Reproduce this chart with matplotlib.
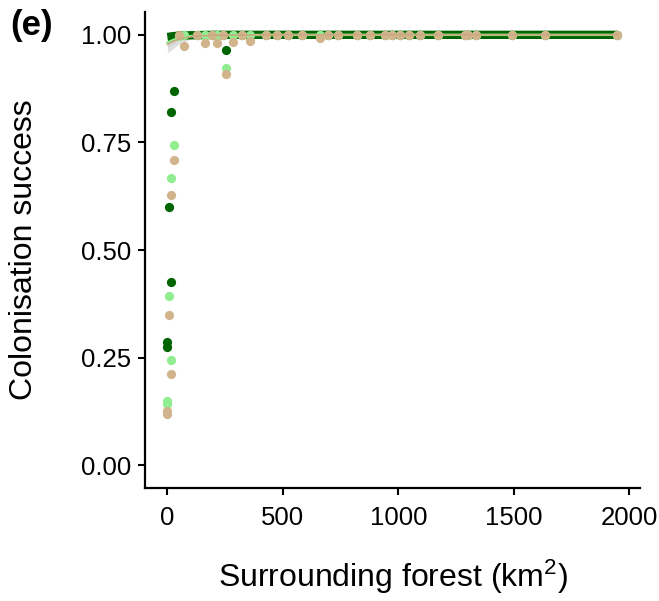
import numpy as np
import matplotlib
matplotlib.use("Agg")
import matplotlib.pyplot as plt

plt.rcParams['font.family'] = ['Liberation Sans', 'DejaVu Sans']
plt.rcParams['mathtext.default'] = 'regular'

# Sites with low colonisation success (surrounding forest, km2)
low_x = [27, 17, 8, 17, 0, 0, 255]
low_dark = [0.87, 0.82, 0.60, 0.426, 0.287, 0.275, 0.965]
low_light = [0.745, 0.667, 0.394, 0.245, 0.150, 0.143, 0.924]
low_tan = [0.71, 0.627, 0.35, 0.213, 0.127, 0.120, 0.91]

# Sites with success at or near 1
high_x = [52, 70, 130, 164, 194, 216, 240, 285, 324, 359, 428, 475, 523,
          583, 661, 696, 739, 821, 877, 942, 972, 1006, 1045, 1093, 1170,
          1287, 1300, 1335, 1490, 1633, 1948]
high_dark = [1.0] * len(high_x)
high_light = [0.998, 1.0, 0.999, 1.0, 1.0, 1.0, 1.0, 1.0, 1.0, 1.0, 1.0, 1.0, 1.0,
              1.0, 1.0, 1.0, 1.0, 1.0, 1.0, 1.0, 1.0, 1.0, 1.0, 1.0, 1.0,
              1.0, 1.0, 1.0, 1.0, 1.0, 1.0]
high_tan = [1.0, 0.975, 1.0, 0.982, 1.0, 0.98, 1.0, 0.983, 1.0, 0.985, 1.0, 1.0, 1.0,
            1.0, 0.993, 1.0, 1.0, 1.0, 1.0, 1.0, 1.0, 1.0, 1.0, 1.0, 1.0,
            1.0, 1.0, 1.0, 1.0, 1.0, 1.0]

# Fitted curves and confidence bands
fit_x = [0, 25, 50, 100, 200, 500, 1000, 1948]
fit_dark = [0.995, 0.997, 0.998, 0.999, 1.0, 1.0, 1.0, 1.0]
fit_light = [0.982, 0.988, 0.993, 0.997, 0.999, 1.0, 1.0, 1.0]
fit_tan = [0.978, 0.985, 0.990, 0.996, 0.999, 1.0, 1.0, 1.0]
band_low = [0.958, 0.968, 0.978, 0.990, 0.998, 1.0, 1.0, 1.0]
band_low2 = [0.970, 0.978, 0.986, 0.994, 0.999, 1.0, 1.0, 1.0]

c_dark = '#006400'
c_light = '#90EE90'
c_tan = '#D2B48C'

fig = plt.figure(figsize=(6.59, 6.01), dpi=100)
ax = fig.add_axes([0.22, 0.188, 0.751, 0.792])

ax.fill_between(fit_x, band_low, 1.0, color='#bbbbbb', alpha=0.45, lw=0)
ax.fill_between(fit_x, band_low2, 1.0, color='#cccccc', alpha=0.45, lw=0)
ax.plot(fit_x, fit_dark, color=c_dark, lw=6, solid_capstyle='butt', zorder=2)
ax.plot(fit_x, fit_light, color=c_light, lw=1.8, zorder=2)

s = 44
ax.scatter(low_x + high_x, low_dark + high_dark, s=s, color=c_dark, lw=0, zorder=3)
ax.scatter(low_x + high_x, low_light + high_light, s=s, color=c_light, lw=0, zorder=4)
ax.scatter(low_x + high_x, low_tan + high_tan, s=s, color=c_tan, lw=0, zorder=5)
ax.plot(fit_x, fit_tan, color='#c9aa80', lw=1.2, zorder=6)

ax.set_xlim(-97, 2045)
ax.set_ylim(-0.053, 1.053)
ax.set_xticks([0, 500, 1000, 1500, 2000])
ax.set_yticks([0, 0.25, 0.5, 0.75, 1.0])
ax.set_yticklabels(['0.00', '0.25', '0.50', '0.75', '1.00'])
ax.tick_params(labelsize=18.5, width=1.5, length=5, colors='black')
ax.tick_params(axis='x', pad=8)
ax.tick_params(axis='y', pad=5)

for sp in ['top', 'right']:
    ax.spines[sp].set_visible(False)
for sp in ['left', 'bottom']:
    ax.spines[sp].set_linewidth(1.6)

ax.set_xlabel('Surrounding forest (km$^2$)', fontsize=23, labelpad=20)
ax.set_ylabel('Colonisation success', fontsize=23, labelpad=30)

fig.text(0.015, 0.958, '(e)', fontsize=25, fontweight='bold', va='center')

fig.savefig('out.png', dpi=100)
